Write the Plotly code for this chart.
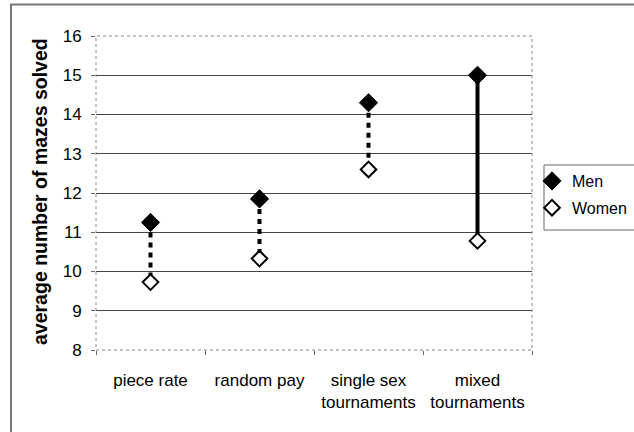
import plotly.graph_objects as go

categories = ["piece rate", "random pay", "single sex<br>tournaments", "mixed<br>tournaments"]
men = [11.25, 11.85, 14.3, 15.0]
women = [9.73, 10.33, 12.6, 10.78]
y_ticks = [8, 9, 10, 11, 12, 13, 14, 15, 16]

connector_dash = ["5px,5px", "5px,5px", "5px,5px", "solid"]

W, H = 634, 432
L, R, T, B = 96, 532, 36, 350  # plot area in pixels


def px_x(p):
    return (p - L) / (R - L)


def px_y(p):
    return (B - p) / (B - T)


fig = go.Figure()
for cat, m, w, d in zip(categories, men, women, connector_dash):
    fig.add_trace(go.Scatter(
        x=[cat, cat], y=[m, w], mode="lines",
        line=dict(color="black", width=4, dash=d),
        showlegend=False, hoverinfo="skip"))

fig.add_trace(go.Scatter(
    x=categories, y=men, mode="markers", name="Men", legendgroup="m",
    marker=dict(symbol="diamond", size=14, color="black",
                line=dict(color="black", width=1))))
fig.add_trace(go.Scatter(
    x=categories, y=women, mode="markers", name="Women", legendgroup="w",
    marker=dict(symbol="diamond", size=12, color="white",
                line=dict(color="black", width=2))))

font_family = "Liberation Sans, Arial, sans-serif"
fig.update_layout(
    width=W, height=H,
    margin=dict(l=L, r=W - R, t=T, b=H - B),
    plot_bgcolor="white", paper_bgcolor="white",
    font=dict(family=font_family, size=17, color="black"),
    showlegend=True,
    legend=dict(xref="container", yref="container",
                x=532 / W, y=1 - 164 / H, xanchor="left", yanchor="top",
                borderwidth=0, bgcolor="rgba(0,0,0,0)",
                font=dict(size=16), itemwidth=30, tracegroupgap=3),
    xaxis=dict(type="category", categoryorder="array", categoryarray=categories,
               range=[-0.5, 3.5], tickson="boundaries", ticks="outside",
               ticklen=4, tickcolor="#666", showgrid=False, showline=False,
               automargin=False, tickfont=dict(size=17), ticklabelstandoff=18),
    yaxis=dict(range=[8, 16], tickvals=y_ticks, ticks="outside", ticklen=4,
               tickcolor="#666", showgrid=True, gridcolor="#444", gridwidth=1.3,
               showline=False, zeroline=False, automargin=False,
               tickfont=dict(size=17), ticklabelstandoff=6),
    annotations=[dict(
        text="<b>average number of mazes solved</b>", textangle=-90,
        xref="paper", yref="paper", x=px_x(40), y=px_y(192), showarrow=False,
        font=dict(size=19.5), xanchor="center", yanchor="middle")],
    shapes=[
        dict(type="rect", xref="paper", yref="paper", x0=0, x1=1, y0=0, y1=1,
             line=dict(color="#888", width=1, dash="dot"), layer="above"),
        dict(type="rect", xref="paper", yref="paper", x0=px_x(11), x1=px_x(700),
             y0=px_y(500), y1=px_y(4.5), line=dict(color="#777", width=2)),
        dict(type="rect", xref="paper", yref="paper", x0=px_x(544), x1=px_x(700),
             y0=px_y(230), y1=px_y(165), line=dict(color="#666", width=1)),
    ],
)

fig.write_html("out.html", config={"displayModeBar": False},
               post_script="document.body.style.margin='0';")
